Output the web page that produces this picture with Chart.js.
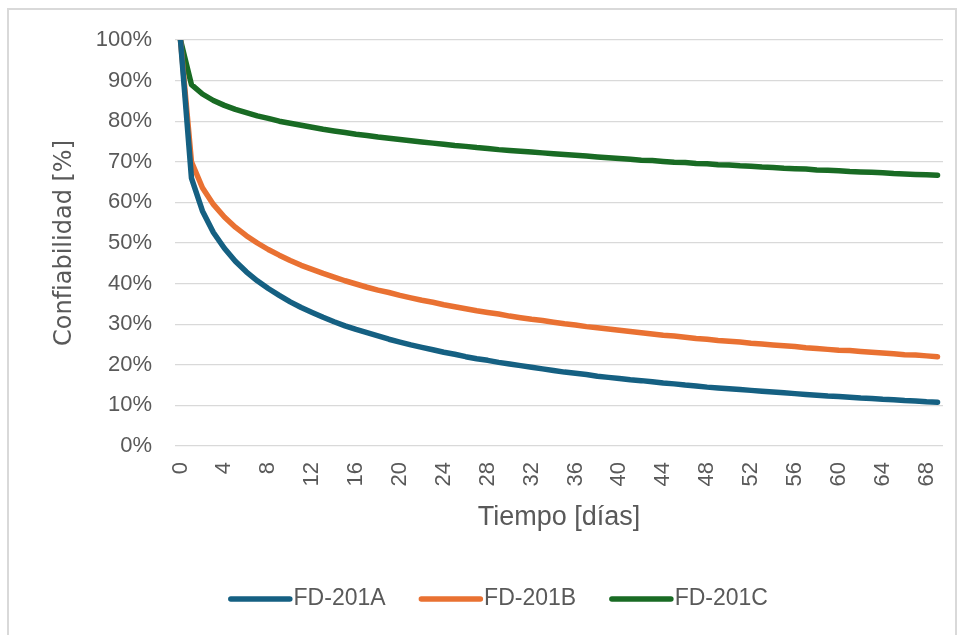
<!DOCTYPE html>
<html lang="es">
<head>
<meta charset="utf-8">
<title>Confiabilidad FD-201</title>
<script src="https://cdn.jsdelivr.net/npm/chart.js@4.4.1/dist/chart.umd.min.js"></script>
<style>
  html, body { margin: 0; padding: 0; background: #ffffff; }
  #wrap { position: relative; width: 965px; height: 635px; overflow: hidden; }
  #frame { position: absolute; left: 7px; top: 8px; width: 950px; height: 700px;
           border: 2px solid #d9d9d9; box-sizing: border-box; pointer-events: none; }
  canvas { position: absolute; left: 0; top: 0; }
</style>
</head>
<body>
<div id="wrap">
  <canvas id="chart" width="965" height="635"></canvas>
  <div id="frame"></div>
</div>
<script>
// Días de operación (eje X)
const dias = [
  0, 1, 2, 3, 4, 5, 6, 7, 8, 9, 10, 11, 12, 13, 14, 15, 16, 17, 18, 19,
  20, 21, 22, 23, 24, 25, 26, 27, 28, 29, 30, 31, 32, 33, 34, 35, 36, 37, 38, 39,
  40, 41, 42, 43, 44, 45, 46, 47, 48, 49, 50, 51, 52, 53, 54, 55, 56, 57, 58, 59,
  60, 61, 62, 63, 64, 65, 66, 67, 68, 69
];

// Confiabilidad [%] por equipo
const fd201A = [
  100, 66.0, 57.9, 52.6, 48.7, 45.5, 42.9, 40.7, 38.8, 37.1,
  35.5, 34.1, 32.9, 31.7, 30.6, 29.6, 28.7, 27.9, 27.1, 26.3,
  25.6, 24.9, 24.3, 23.7, 23.1, 22.6, 22.0, 21.5, 21.1, 20.6,
  20.2, 19.8, 19.4, 19.0, 18.6, 18.2, 17.9, 17.6, 17.2, 16.9,
  16.6, 16.3, 16.1, 15.8, 15.5, 15.3, 15.0, 14.8, 14.5, 14.3,
  14.1, 13.9, 13.7, 13.5, 13.3, 13.1, 12.9, 12.7, 12.5, 12.3,
  12.2, 12.0, 11.8, 11.7, 11.5, 11.4, 11.2, 11.1, 10.9, 10.8
];
const fd201B = [
  100, 70.0, 63.6, 59.5, 56.4, 53.9, 51.8, 50.0, 48.4, 47.0,
  45.7, 44.5, 43.5, 42.5, 41.6, 40.7, 39.9, 39.1, 38.4, 37.8,
  37.1, 36.5, 35.9, 35.4, 34.8, 34.3, 33.8, 33.3, 32.9, 32.5,
  32.0, 31.6, 31.2, 30.9, 30.5, 30.1, 29.8, 29.4, 29.1, 28.8,
  28.5, 28.2, 27.9, 27.6, 27.3, 27.1, 26.8, 26.5, 26.3, 26.0,
  25.8, 25.6, 25.3, 25.1, 24.9, 24.7, 24.5, 24.2, 24.0, 23.8,
  23.6, 23.5, 23.3, 23.1, 22.9, 22.7, 22.5, 22.4, 22.2, 22.0
];
const fd201C = [
  100, 89.0, 86.7, 85.1, 83.9, 82.9, 82.1, 81.3, 80.7, 80.0,
  79.5, 79.0, 78.5, 78.0, 77.6, 77.2, 76.8, 76.5, 76.1, 75.8,
  75.5, 75.2, 74.9, 74.6, 74.3, 74.0, 73.8, 73.5, 73.3, 73.0,
  72.8, 72.6, 72.4, 72.2, 72.0, 71.8, 71.6, 71.4, 71.2, 71.0,
  70.8, 70.6, 70.4, 70.3, 70.1, 69.9, 69.8, 69.6, 69.5, 69.3,
  69.2, 69.0, 68.9, 68.7, 68.6, 68.4, 68.3, 68.2, 68.0, 67.9,
  67.8, 67.6, 67.5, 67.4, 67.3, 67.1, 67.0, 66.9, 66.8, 66.7
];

const nombres = ['FD-201A', 'FD-201B', 'FD-201C'];
const colores = ['#156082', '#E97132', '#196B24'];

const TEXTO = '#595959';
const REJILLA = '#d9d9d9';
const GROSOR = 5.5;

// Leyenda dibujada bajo el gráfico: trazo corto + nombre de la serie
const leyendaInferior = {
  id: 'leyendaInferior',
  afterDraw(chart) {
    const ctx = chart.ctx;
    const y = 599;
    const largo = 59;      // tramo recto del trazo
    const cap = GROSOR / 2; // extremo redondeado
    const separacion = 33;
    ctx.save();
    ctx.font = '23px "Liberation Sans", Arial, sans-serif';
    ctx.textBaseline = 'middle';
    ctx.textAlign = 'left';
    const items = chart.data.datasets.map(ds => ({
      label: ds.label, color: ds.borderColor, w: ctx.measureText(ds.label).width
    }));
    const total = items.reduce((s, it) => s + cap * 2 + largo + 1 + it.w, 0) + separacion * (items.length - 1);
    let x = 498 - total / 2;
    items.forEach(it => {
      ctx.strokeStyle = it.color;
      ctx.lineWidth = GROSOR;
      ctx.lineCap = 'round';
      ctx.beginPath();
      ctx.moveTo(x + cap, y);
      ctx.lineTo(x + cap + largo, y);
      ctx.stroke();
      x += cap * 2 + largo + 1;
      ctx.fillStyle = TEXTO;
      ctx.fillText(it.label, x, y);
      x += it.w + separacion;
    });
    ctx.restore();
  }
};

const series = [fd201A, fd201B, fd201C];

new Chart(document.getElementById('chart'), {
  type: 'line',
  data: {
    labels: dias,
    datasets: series.map((valores, i) => ({
      label: nombres[i],
      data: valores,
      borderColor: colores[i],
      backgroundColor: colores[i],
      borderWidth: GROSOR,
      borderCapStyle: 'round',
      borderJoinStyle: 'round',
      pointRadius: 0,
      pointHoverRadius: 0,
      tension: 0,
      fill: false
    }))
  },
  options: {
    responsive: false,
    animation: false,
    devicePixelRatio: 1,
    layout: { padding: { left: 0, right: 22, top: 40, bottom: 89 } },
    plugins: {
      legend: { display: false },
      tooltip: { enabled: false }
    },
    scales: {
      x: {
        type: 'category',
        offset: true,
        grid: { display: false, drawTicks: false },
        border: { display: false },
        ticks: {
          autoSkip: false,
          maxRotation: 90,
          minRotation: 90,
          padding: 16,
          color: TEXTO,
          font: { family: '"Liberation Sans", Arial, sans-serif', size: 22 },
          callback: function (val, idx) {
            const d = dias[idx];
            return d % 4 === 0 ? String(d) : null;
          }
        },
        title: {
          display: true,
          text: 'Tiempo [días]',
          color: TEXTO,
          font: { family: '"Liberation Sans", Arial, sans-serif', size: 27 },
          padding: { top: 0, bottom: 12 }
        },
        afterFit: function (scale) {
          scale.height = 100;
          scale.paddingRight = 0;
          scale.paddingLeft = 0;
        }
      },
      y: {
        min: 0,
        max: 100,
        grid: { color: REJILLA, lineWidth: 1.3, drawTicks: false },
        border: { display: false },
        ticks: {
          stepSize: 10,
          padding: 23,
          color: TEXTO,
          font: { family: '"Liberation Sans", Arial, sans-serif', size: 22 },
          callback: v => v + '%'
        },
        title: {
          display: true,
          text: 'Confiabilidad [%]',
          color: TEXTO,
          font: { family: '"DejaVu Sans", sans-serif', size: 24 },
          padding: { top: 50, bottom: 0 }
        },
        afterFit: function (scale) { scale.width = 175; }
      }
    }
  },
  plugins: [leyendaInferior]
});
</script>
</body>
</html>
